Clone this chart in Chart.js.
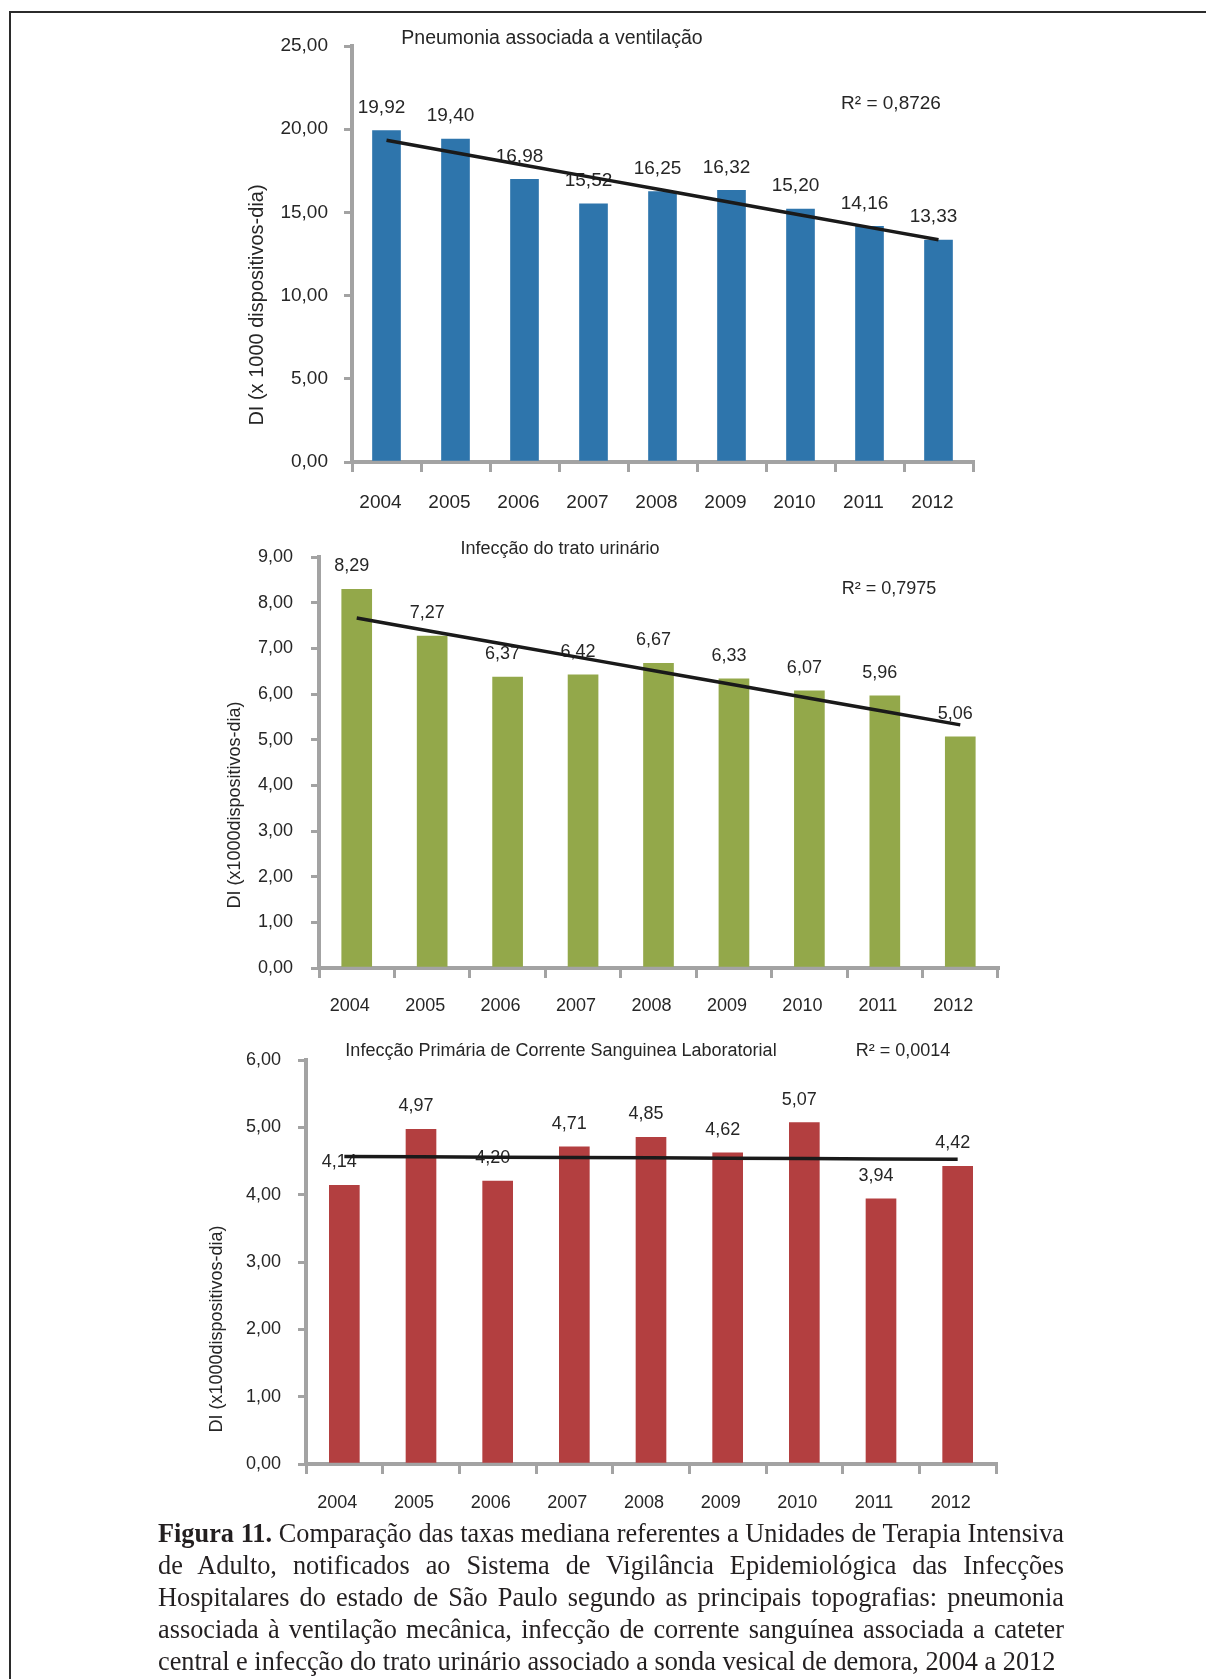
<!DOCTYPE html>
<html>
<head>
<meta charset="utf-8">
<script src="https://cdn.jsdelivr.net/npm/chart.js@4.4.1/dist/chart.umd.min.js"></script>
<style>
html,body{margin:0;padding:0;background:#fff;}
body{width:1206px;height:1679px;position:relative;overflow:hidden;}
.frame{position:absolute;left:9px;top:11px;width:1400px;height:1900px;border-left:2.5px solid #2b2b2b;border-top:2.5px solid #2b2b2b;}
canvas{position:absolute;left:0;}
#caption{position:absolute;left:158px;top:1518px;width:906px;font-family:"Liberation Serif","Times New Roman",serif;font-size:26.3px;line-height:32.1px;color:#231f20;}
#caption div{text-align:justify;text-align-last:justify;white-space:nowrap;}
#caption div.last{text-align-last:left;}
</style>
</head>
<body>
<div class="frame"></div>
<canvas id="c1" width="1206" height="540" style="top:0px"></canvas>
<canvas id="c2" width="1206" height="520" style="top:520px"></canvas>
<canvas id="c3" width="1206" height="520" style="top:1020px"></canvas>
<div id="caption">
<div><b>Figura 11.</b> Comparação das taxas mediana referentes a Unidades de Terapia Intensiva</div>
<div>de Adulto, notificados ao Sistema de Vigilância Epidemiológica das Infecções</div>
<div>Hospitalares do estado de São Paulo segundo as principais topografias: pneumonia</div>
<div>associada à ventilação mecânica, infecção de corrente sanguínea associada a cateter</div>
<div class="last">central e infecção do trato urinário associado a sonda vesical de demora, 2004 a 2012</div>
</div>
<script>
// ---- Data ----
const years = ['2004','2005','2006','2007','2008','2009','2010','2011','2012'];
const pavValues  = [19.92, 19.40, 16.98, 15.52, 16.25, 16.32, 15.20, 14.16, 13.33];
const ituValues  = [8.29, 7.27, 6.37, 6.42, 6.67, 6.33, 6.07, 5.96, 5.06];
const ipcsValues = [4.14, 4.97, 4.20, 4.71, 4.85, 4.62, 5.07, 3.94, 4.42];
const chartTitles = ['Pneumonia associada a ventilação', 'Infecção do trato urinário', 'Infecção Primária de Corrente Sanguinea Laboratorial'];
const r2Labels = ['R² = 0,8726', 'R² = 0,7975', 'R² = 0,0014'];
const yAxisTitles = ['DI (x 1000 dispositivos-dia)', 'DI (x1000dispositivos-dia)', 'DI (x1000dispositivos-dia)'];
const yMax = [25, 9, 6];
const yStep = [5, 1, 1];

// Least-squares linear trend (as Excel's linear trendline) from the data
function linearTrend(vals) {
  const n = vals.length;
  const mx = (n - 1) / 2;
  const my = vals.reduce((a, b) => a + b, 0) / n;
  let sxy = 0, sxx = 0;
  vals.forEach((v, i) => { sxy += (i - mx) * (v - my); sxx += (i - mx) * (i - mx); });
  const b = sxy / sxx;
  return vals.map((v, i) => my + b * (i - mx));
}
const fmt = v => v.toFixed(2).replace('.', ',');

const FONT = '"Liberation Sans", Arial, sans-serif';
const TXT = '#262626';
const AX = '#a3a3a3';

const extraText = {
  id: 'extraText',
  afterDatasetDraw(chart, args, o) {
    if (args.index !== 0) return;
    const ctx = chart.ctx;
    const meta = chart.getDatasetMeta(0);
    const vals = chart.data.datasets[0].data;
    ctx.save();
    ctx.font = o.labelSize + 'px ' + FONT;
    ctx.fillStyle = TXT;
    ctx.textAlign = 'center';
    ctx.textBaseline = 'middle';
    meta.data.forEach((bar, i) => ctx.fillText(fmt(vals[i]), bar.x + o.labelDx, bar.y - o.labelDy));
    ctx.restore();
  },
  afterDraw(chart, args, o) {
    const ctx = chart.ctx;
    ctx.save();
    ctx.fillStyle = TXT;
    ctx.textAlign = 'center';
    ctx.textBaseline = 'middle';
    ctx.font = o.titleSize + 'px ' + FONT;
    ctx.fillText(o.title, o.titlePos[0], o.titlePos[1]);
    ctx.font = o.r2Size + 'px ' + FONT;
    ctx.fillText(o.r2, o.r2Pos[0], o.r2Pos[1]);
    ctx.translate(o.yTitlePos[0], o.yTitlePos[1]);
    ctx.rotate(-Math.PI / 2);
    ctx.font = o.yTitleSize + 'px ' + FONT;
    ctx.fillText(o.yTitle, 0, 0);
    ctx.restore();
  }
};

function makeChart(id, k, values, color, geo) {
  return new Chart(document.getElementById(id), {
    type: 'bar',
    data: {
      labels: years,
      datasets: [
        { type: 'bar', data: values, backgroundColor: color, barThickness: geo.barW, order: 1 },
        { type: 'line', data: linearTrend(values), borderColor: '#1a1a1a', borderWidth: 3.5,
          pointRadius: 0, fill: false, tension: 0, order: 0 }
      ]
    },
    options: {
      responsive: false,
      animation: false,
      events: [],
      layout: { padding: { left: 0, right: geo.padR, top: geo.padT, bottom: geo.padB } },
      plugins: {
        legend: { display: false },
        tooltip: { enabled: false },
        extraText: {
          labelSize: geo.labelSize, labelDx: -5, labelDy: 23,
          title: chartTitles[k], titlePos: geo.titlePos, titleSize: geo.titleSize,
          r2: r2Labels[k], r2Pos: geo.r2Pos, r2Size: geo.r2Size,
          yTitle: yAxisTitles[k], yTitlePos: geo.yTitlePos, yTitleSize: geo.yTitleSize
        }
      },
      scales: {
        x: {
          offset: true,
          grid: { offset: true, drawOnChartArea: false, drawTicks: true, tickLength: 10, color: AX, lineWidth: 3 },
          border: { color: AX, width: 4 },
          ticks: { color: TXT, font: { family: FONT, size: geo.tickSize }, padding: geo.xPad,
                   labelOffset: geo.xLabelDx, maxRotation: 0, autoSkip: false },
          afterFit: s => { s.height = 60; }
        },
        y: {
          min: 0, max: yMax[k],
          grid: { drawOnChartArea: false, drawTicks: true, tickLength: 8, color: AX, lineWidth: 3 },
          border: { color: AX, width: 4 },
          ticks: { stepSize: yStep[k], color: TXT, font: { family: FONT, size: geo.tickSize },
                   padding: geo.yPad, callback: v => fmt(v) },
          afterFit: s => { s.width = geo.left; }
        }
      }
    },
    plugins: [extraText]
  });
}

makeChart('c1', 0, pavValues, '#2e75ac', {
  left: 352, padR: 233, padT: 46, padB: 18, barW: 28,
  tickSize: 19, labelSize: 19, xPad: 19, yPad: 16, xLabelDx: -6,
  titlePos: [552, 39], titleSize: 19.5, r2Pos: [891, 104], r2Size: 19,
  yTitlePos: [257, 305], yTitleSize: 20
});
makeChart('c2', 1, ituValues, '#93a84a', {
  left: 319, padR: 208, padT: 37, padB: 12, barW: 30,
  tickSize: 18, labelSize: 18, xPad: 17, yPad: 18, xLabelDx: -7,
  titlePos: [560, 29], titleSize: 18, r2Pos: [889, 69], r2Size: 18,
  yTitlePos: [235, 285], yTitleSize: 18
});
makeChart('c3', 2, ipcsValues, '#b33f40', {
  left: 306, padR: 210, padT: 40, padB: 16, barW: 30,
  tickSize: 18, labelSize: 18, xPad: 18, yPad: 17, xLabelDx: -7,
  titlePos: [561, 31], titleSize: 18, r2Pos: [903, 31], r2Size: 18,
  yTitlePos: [217, 309], yTitleSize: 18
});
</script>
</body>
</html>
